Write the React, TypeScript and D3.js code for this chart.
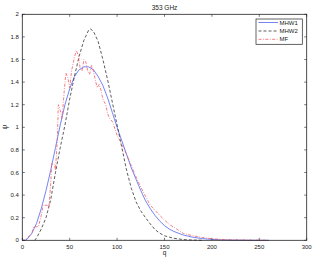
import { useEffect, useRef } from 'react';
import * as d3 from 'd3';

type Pt = [number, number];

// MHW1 (blue, solid)
const mhw1: Pt[] = [
  [0, 0], [3, 0], [5, 0.01], [10, 0.06], [15, 0.15], [20, 0.28], [25, 0.44], [30, 0.62],
  [35, 0.82], [40, 1.02], [45, 1.2], [50, 1.34], [55, 1.45], [60, 1.51], [65, 1.535],
  [70, 1.535], [75, 1.51], [80, 1.45], [85, 1.37], [90, 1.26], [95, 1.13], [100, 1.0],
  [105, 0.88], [110, 0.76], [115, 0.64], [120, 0.54], [125, 0.44], [130, 0.35], [135, 0.28],
  [140, 0.22], [145, 0.17], [150, 0.13], [155, 0.1], [160, 0.078], [170, 0.046],
  [180, 0.027], [190, 0.015], [200, 0.008], [210, 0.004], [220, 0.002], [240, 0.0005], [260, 0],
];

// MHW2 (black, dashed)
const mhw2: Pt[] = [
  [13, 0], [15, 0.02], [20, 0.1], [25, 0.2], [30, 0.36], [35, 0.6], [40, 0.82], [45, 1.02],
  [50, 1.25], [55, 1.45], [60, 1.63], [65, 1.77], [70, 1.86], [72, 1.87], [75, 1.85],
  [80, 1.76], [85, 1.6], [90, 1.42], [95, 1.22], [100, 1.02], [105, 0.82], [110, 0.62],
  [115, 0.46], [120, 0.34], [125, 0.26], [130, 0.2], [135, 0.145], [140, 0.095], [145, 0.063],
  [150, 0.04], [155, 0.028], [160, 0.018], [170, 0.006], [180, 0.002], [190, 0],
];

// MF (red, dash-dot)
const mf: Pt[] = [
  [0, 0], [3, 0], [5, 0.02], [10, 0.06], [12, 0.12], [17, 0.12], [20, 0.22], [22, 0.31],
  [27, 0.31], [28, 0.29], [30, 0.5], [31, 0.68], [34, 0.67], [35, 0.62], [37, 0.9],
  [38, 1.2], [40, 1.15], [42, 1.08], [44, 1.3], [46, 1.48], [48, 1.44], [50, 1.35],
  [52, 1.5], [55, 1.62], [57, 1.68], [59, 1.64], [61, 1.52], [63, 1.5], [65, 1.6],
  [67, 1.58], [69, 1.5], [71, 1.47], [73, 1.55], [75, 1.5], [77, 1.42], [79, 1.35],
  [81, 1.38], [83, 1.33], [85, 1.25], [88, 1.2], [90, 1.12], [92, 1.08], [95, 1.05],
  [98, 0.98], [100, 0.93], [103, 0.88], [106, 0.83], [110, 0.76], [115, 0.66], [120, 0.56],
  [125, 0.47], [130, 0.39], [135, 0.31], [140, 0.265], [145, 0.22], [150, 0.18], [155, 0.14],
  [160, 0.115], [170, 0.06], [180, 0.04], [190, 0.025], [200, 0.014], [210, 0.008],
  [220, 0.005], [235, 0.002], [260, 0],
];

const xTicks = [0, 50, 100, 150, 200, 250, 300];
const yTicks = [0, 0.2, 0.4, 0.6, 0.8, 1, 1.2, 1.4, 1.6, 1.8, 2];
const legendNames = ['MHW1', 'MHW2', 'MF'];

const W = 316;
const H = 259;

export default function App() {
  const svgRef = useRef<SVGSVGElement>(null);

  useEffect(() => {
    if (!svgRef.current) return;
    const svg = d3.select(svgRef.current);
    svg.selectAll('*').remove();

    const left = 22.3, right = 306.7, top = 14.3, bottom = 240.3;
    const x = d3.scaleLinear().domain([0, 300]).range([left, right]);
    const y = d3.scaleLinear().domain([0, 2]).range([bottom, top]);
    const font = 'Liberation Sans, Arial, sans-serif';

    const line = d3.line<Pt>().x(d => x(d[0])).y(d => y(d[1]));

    const series = [
      { data: mhw1, color: '#5064f0', dash: null as string | null },
      { data: mhw2, color: '#333333', dash: '3,2' },
      { data: mf, color: '#f45a62', dash: '3,1.5,0.8,1.5' },
    ];

    const plot = svg.append('g');
    series.forEach(s => {
      plot.append('path')
        .attr('d', line(s.data) || '')
        .attr('fill', 'none')
        .attr('stroke', s.color)
        .attr('stroke-width', 0.8)
        .attr('stroke-dasharray', s.dash);
    });

    // frame
    svg.append('rect')
      .attr('x', left).attr('y', top)
      .attr('width', right - left).attr('height', bottom - top)
      .attr('fill', 'none').attr('stroke', '#222').attr('stroke-width', 0.8);

    const tickLen = 2.5;
    xTicks.forEach(t => {
      svg.append('line').attr('x1', x(t)).attr('x2', x(t)).attr('y1', bottom).attr('y2', bottom - tickLen)
        .attr('stroke', '#222').attr('stroke-width', 0.6);
      svg.append('line').attr('x1', x(t)).attr('x2', x(t)).attr('y1', top).attr('y2', top + tickLen)
        .attr('stroke', '#222').attr('stroke-width', 0.6);
      svg.append('text').attr('x', x(t)).attr('y', bottom + 8.3)
        .attr('text-anchor', 'middle').attr('font-family', font).attr('font-size', 6)
        .attr('fill', '#222').text(String(t));
    });
    yTicks.forEach(t => {
      svg.append('line').attr('x1', left).attr('x2', left + tickLen).attr('y1', y(t)).attr('y2', y(t))
        .attr('stroke', '#222').attr('stroke-width', 0.6);
      svg.append('line').attr('x1', right).attr('x2', right - tickLen).attr('y1', y(t)).attr('y2', y(t))
        .attr('stroke', '#222').attr('stroke-width', 0.6);
      svg.append('text').attr('x', left - 3.5).attr('y', y(t) + 2.1)
        .attr('text-anchor', 'end').attr('font-family', font).attr('font-size', 6)
        .attr('fill', '#222').text(d3.format('~g')(t));
    });

    svg.append('text').attr('x', (left + right) / 2).attr('y', 9.5)
      .attr('text-anchor', 'middle').attr('font-family', font).attr('font-size', 6.5)
      .attr('fill', '#222').text('353 GHz');
    svg.append('text').attr('x', (left + right) / 2).attr('y', 255)
      .attr('text-anchor', 'middle').attr('font-family', font).attr('font-size', 6.5)
      .attr('fill', '#222').text('q');
    svg.append('text').attr('transform', `translate(7, ${(top + bottom) / 2}) rotate(-90)`)
      .attr('text-anchor', 'middle').attr('font-family', font).attr('font-size', 6.5)
      .attr('fill', '#222').text('ψ');

    // legend
    const lg = svg.append('g');
    lg.append('rect').attr('x', 256).attr('y', 19).attr('width', 46.3).attr('height', 25.3)
      .attr('fill', '#fff').attr('stroke', '#222').attr('stroke-width', 0.7);
    const rows = [22.5, 31, 39.3];
    legendNames.forEach((name, i) => {
      lg.append('line').attr('x1', 258.5).attr('x2', 278).attr('y1', rows[i]).attr('y2', rows[i])
        .attr('stroke', series[i].color).attr('stroke-width', 0.8)
        .attr('stroke-dasharray', series[i].dash);
      lg.append('text').attr('x', 279.5).attr('y', rows[i] + 2.1)
        .attr('font-family', font).attr('font-size', 6).attr('fill', '#222').text(name);
    });
  }, []);

  return (
    <svg
      ref={svgRef}
      width={W}
      height={H}
      viewBox={`0 0 ${W} ${H}`}
      style={{ position: 'absolute', left: 0, top: 0, background: '#fff' }}
    />
  );
}
